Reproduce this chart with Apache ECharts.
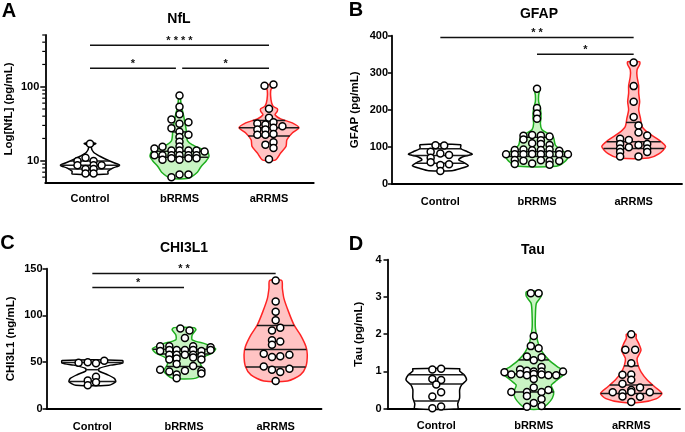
<!DOCTYPE html>
<html>
<head>
<meta charset="utf-8">
<script src="https://cdn.jsdelivr.net/npm/echarts@6/dist/echarts.min.js"></script>
<style>
html, body { margin: 0; background: #fff; }
#main { width: 685px; height: 432px; }
</style>
</head>
<body>
<div id="main"></div>
<script>
const groups = ['Control', 'bRRMS', 'aRRMS'];

// points: [x offset inside the category, value]
const nflPoints = [
  [[0, 17.0], [-0.05, 11.0], [-0.14, 9.9], [0.04, 9.9], [-0.14, 8.7], [0.04, 8.7], [0.13, 8.7], [-0.05, 7.7], [0.04, 7.7], [-0.05, 6.7], [0.04, 6.7]],
  [[0, 76], [0, 53.5], [0, 42.5], [-0.09, 36], [0.1, 33], [0, 31.5], [-0.09, 27.5], [0, 24.7], [0.1, 22.5], [0, 20.9], [0, 18.1], [0, 15.6],
   [-0.28, 14.6], [-0.19, 15.5], [-0.09, 13.7], [0, 13.7], [0.1, 13.7], [0.19, 13.7], [0.28, 13.3],
   [-0.28, 11.9], [-0.19, 11.9], [-0.09, 11.9], [0, 11.9], [0.1, 11.9], [0.19, 11.9],
   [-0.19, 10.3], [-0.09, 10.8], [0, 10.3], [0.1, 10.8], [0.19, 10.8], [-0.09, 6.0], [0, 6.5], [0.1, 6.5]],
  [[-0.05, 103], [0.05, 107], [0, 50.3], [0, 38], [-0.13, 31.8], [-0.04, 30.8], [0.05, 33.1], [0.15, 29.2], [-0.13, 26.4], [-0.04, 26.4],
   [0.05, 27.8], [-0.13, 22.5], [-0.04, 22.5], [0.05, 23.0], [-0.04, 16.5], [0.05, 17.7], [0.05, 14.9], [0, 10.5]]
];
// violin outline: [value, half width]
const nflShapes = [
  [[6.6, 0.20], [7.2, 0.20], [8.0, 0.26], [8.7, 0.33], [9.9, 0.22], [11.5, 0.11], [13, 0.04], [15, 0.015], [16.3, 0.03], [17.0, 0.065], [17.4, 0.045]],
  [[5.8, 0.10], [7.0, 0.20], [8.3, 0.24], [10.0, 0.30], [11.5, 0.33], [13.4, 0.31], [14.5, 0.24], [16.5, 0.14], [18.5, 0.09], [21.4, 0.08], [26, 0.075], [33, 0.06], [44, 0.04], [55, 0.02], [68, 0.012], [76, 0.01]],
  [[10.2, 0.07], [12.7, 0.13], [15.6, 0.19], [19.2, 0.20], [23.7, 0.26], [27.8, 0.335], [32.4, 0.26], [36.8, 0.13], [42, 0.067], [46.7, 0.093], [50.3, 0.093], [54.6, 0.045], [67, 0.022], [92, 0.022], [102, 0.06], [106, 0.07]]
];
const nflQuart = [[7.7, 8.7, 9.9], [11.1, 13.4, 24.5], [21.5, 27.8, 35]];
const nflSig = [[0, 2, 363, '* * * *'], [0, 0.96, 177, '*'], [1.03, 2, 177, '*']];
const nflMinorTicks = [6, 7, 8, 9, 20, 30, 40, 50, 60, 70, 80, 90, 200, 300, 400, 500];

const gfapPoints = [
  [[-0.05, 104.5], [0.04, 104], [-0.1, 87], [0, 82], [0.09, 78], [-0.1, 71], [-0.1, 59], [0.09, 53], [0, 51], [0, 35]],
  [[0, 257], [0, 205], [0, 190], [0, 176], [-0.14, 130], [-0.05, 132], [0.04, 131], [0.13, 128], [-0.14, 120], [0.04, 118],
   [-0.05, 110], [0.04, 108], [0.13, 105], [-0.23, 92], [-0.14, 93], [-0.05, 91], [0.04, 92], [0.13, 93], [0.23, 90],
   [-0.32, 80], [-0.23, 80], [-0.14, 80], [-0.05, 81], [0.04, 80], [0.13, 80], [0.23, 80], [0.32, 80],
   [-0.23, 65], [-0.14, 63], [0.04, 64], [0.13, 62], [0.23, 62], [-0.23, 54], [-0.05, 55], [0.13, 52]],
  [[0, 328], [0, 264], [0, 222], [0, 181], [0.05, 158], [0.05, 139], [0.14, 131], [-0.14, 122], [-0.05, 119], [0.14, 108],
   [-0.14, 108], [0.05, 105], [-0.05, 99], [-0.14, 96], [0.14, 96], [0.14, 86], [-0.14, 86], [-0.14, 74], [0.05, 74]]
];
const gfapShapes = [
  [[36, 0.12], [42, 0.21], [49.5, 0.29], [58.6, 0.24], [65, 0.19], [74, 0.24], [80, 0.33], [87, 0.28], [96, 0.21], [106, 0.21]],
  [[48, 0.2], [58.6, 0.28], [76.6, 0.33], [90, 0.26], [105, 0.19], [126, 0.17], [135, 0.12], [147, 0.05], [163, 0.035], [181, 0.042], [204, 0.035], [222, 0.017], [240, 0.017], [259, 0.028]],
  [[70, 0.155], [81, 0.26], [101, 0.33], [119, 0.26], [137, 0.155], [155, 0.087], [177.5, 0.07], [200, 0.052], [222, 0.062], [245, 0.052], [265, 0.052], [290, 0.035], [308, 0.035], [322, 0.062], [330, 0.062]]
];
const gfapQuart = [[56, 77, 95], [74, 87, 126], [96, 114, 166]];
const gfapSig = [[0, 2, 395, '* *'], [1, 2, 350, '*']];

const chiPoints = [
  [[-0.15, 49.5], [-0.05, 50], [0.04, 49], [0.13, 51.5], [0.04, 34.5], [-0.05, 30.5], [0.04, 28.5], [-0.05, 25.5]],
  [[-0.04, 86], [0.06, 84], [0.01, 76], [-0.26, 67], [-0.16, 67], [0.1, 67], [0.29, 66],
   [-0.26, 62], [-0.16, 63], [-0.08, 63], [0.01, 63], [0.1, 63], [0.19, 62], [0.29, 63],
   [-0.16, 58], [-0.08, 58], [0.01, 58], [0.1, 58], [0.19, 57], [-0.16, 53], [-0.08, 54], [0.1, 55], [0.19, 53],
   [-0.08, 48], [0.1, 46], [-0.26, 42], [-0.16, 40], [0.01, 41], [0.19, 41], [0.19, 38], [-0.08, 37], [-0.08, 33]],
  [[0, 137.5], [0, 115], [0, 104], [0, 95], [0.05, 87], [-0.04, 84], [-0.04, 73.6], [0.05, 72.2], [-0.04, 68.6], [-0.13, 59],
   [0.15, 58], [0.05, 56.5], [-0.04, 55.5], [-0.13, 45.5], [0.15, 43], [-0.04, 42], [0.05, 39.5], [0, 30]]
];
const chiShapes = [
  [[25.5, 0.18], [29.1, 0.255], [32.7, 0.24], [36.9, 0.16], [40.5, 0.073], [43.3, 0.073], [46.9, 0.2], [49, 0.33], [51.9, 0.33]],
  [[33, 0.13], [40.5, 0.22], [48, 0.18], [54.5, 0.2], [59.9, 0.31], [64.5, 0.345], [69.4, 0.24], [74, 0.09], [79.4, 0.09], [84.7, 0.13], [87, 0.11]],
  [[30, 0.13], [36.5, 0.27], [45.4, 0.33], [57.9, 0.345], [66.8, 0.33], [79.2, 0.27], [89.9, 0.2], [104.1, 0.14], [118.3, 0.09], [129, 0.073], [137.5, 0.065]]
];
const chiQuart = [[29.5, 42, 49.8], [45.5, 58.7, 64], [44.8, 63.6, 89.3]];
const chiSig = [[0, 2, 145, '* *'], [0, 1, 130, '*']];

const tauPoints = [
  [[-0.04, 1.05], [0.05, 1.07], [-0.04, 0.8], [0.05, 0.77], [0, 0.65], [0.05, 0.44], [-0.04, 0.33], [0.05, 0.06], [-0.04, 0.01]],
  [[-0.03, 3.1], [0.05, 3.1], [0, 1.95], [-0.03, 1.68], [0.05, 1.62], [-0.07, 1.4], [0.08, 1.38], [0, 1.3], [0.08, 1.12],
   [-0.14, 1.05], [-0.07, 1.02], [0, 1.0], [0.08, 1.0], [-0.3, 0.98], [-0.23, 0.92], [-0.14, 0.93], [-0.07, 0.9], [0, 0.93],
   [0.08, 0.92], [0.15, 0.9], [0.23, 0.9], [0.3, 1.0], [0, 0.8], [0, 0.57], [-0.23, 0.45], [-0.07, 0.45], [0.08, 0.45],
   [0.15, 0.5], [-0.07, 0.34], [0.08, 0.26], [0, 0.15], [-0.07, 0.05], [0.08, 0.07]],
  [[0, 2.0], [-0.06, 1.58], [0.04, 1.58], [0, 1.22], [-0.09, 0.91], [0, 0.92], [0, 0.78], [-0.09, 0.67], [0, 0.5], [0.09, 0.57],
   [-0.19, 0.44], [-0.09, 0.42], [0, 0.45], [0.19, 0.44], [-0.09, 0.33], [0.09, 0.32], [0, 0.18]]
];
const tauShapes = [
  [[0, 0.22], [0.13, 0.22], [0.29, 0.24], [0.51, 0.24], [0.64, 0.26], [0.77, 0.31], [0.9, 0.29], [1.01, 0.24], [1.07, 0.24]],
  [[0, 0.075], [0.12, 0.14], [0.28, 0.19], [0.45, 0.205], [0.63, 0.18], [0.77, 0.24], [0.98, 0.325], [1.13, 0.24], [1.31, 0.154], [1.53, 0.085], [1.8, 0.041], [2.16, 0.017], [2.51, 0.017], [2.83, 0.027], [3.01, 0.075], [3.14, 0.075]],
  [[0.17, 0.1], [0.27, 0.26], [0.41, 0.315], [0.59, 0.24], [0.77, 0.164], [0.99, 0.1], [1.17, 0.07], [1.35, 0.06], [1.57, 0.1], [1.76, 0.075], [1.89, 0.05], [2.0, 0.05]]
];
const tauQuart = [[0.21, 0.66, 0.91], [0.45, 0.93, 1.31], [0.41, 0.636, 1.15]];

const font = 'Liberation Sans';
const fills = ['#ffffff', '#c9f4c3', '#ffc3c3'];
const strokes = ['#000000', '#1faf1f', '#ff2424'];

const grids = [
  { left: 45.25, top: 35, width: 268.5, height: 148 },
  { left: 392, top: 35.7, width: 290, height: 148.3 },
  { left: 46.5, top: 268.7, width: 275, height: 140.6 },
  { left: 387.5, top: 259.7, width: 292.5, height: 149 }
];

const mychart = echarts.init(document.getElementById('main'));

// width of the violin at a pixel row
function widthAt(px, py, y) {
  for (let j = 0; j < py.length - 1; j++) {
    const a = py[j], b = py[j + 1];
    if ((y <= a && y >= b) || (y >= a && y <= b)) {
      const t = a === b ? 0 : (y - a) / (b - a);
      return px[j] + t * (px[j + 1] - px[j]);
    }
  }
  return 0;
}

function violin(k, shapes, quarts) {
  return {
    type: 'custom', xAxisIndex: 2 * k + 1, yAxisIndex: k, clip: false, z: 2,
    data: [0, 1, 2],
    renderItem: (params, api) => {
      const i = params.dataIndex;
      const s = shapes[i];
      const right = s.map(d => api.coord([i + d[1], d[0]]));
      const left = s.slice().reverse().map(d => api.coord([i - d[1], d[0]]));
      const cx = api.coord([i, s[0][0]])[0];
      const children = [{
        type: 'polygon',
        shape: { points: right.concat(left), smooth: 0.25 },
        style: { fill: fills[i], stroke: strokes[i], lineWidth: 1.5 }
      }];
      const px = right.map(p => p[0] - cx), py = right.map(p => p[1]);
      quarts[i].forEach(q => {
        const y = api.coord([i, q])[1];
        const w = widthAt(px, py, y);
        children.push({
          type: 'line',
          shape: { x1: cx - w, y1: y, x2: cx + w, y2: y },
          style: { stroke: '#1a1a1a', lineWidth: 1.5 }
        });
      });
      return { type: 'group', children };
    }
  };
}

function dots(k, points) {
  return {
    type: 'scatter', xAxisIndex: 2 * k + 1, yAxisIndex: k, z: 5,
    symbol: 'circle', symbolSize: 7, silent: true,
    itemStyle: { color: '#ffffff', borderColor: '#000000', borderWidth: 1.5, opacity: 1 },
    data: points.flatMap((list, i) => list.map(p => [i + p[0], p[1]]))
  };
}

function sigBars(k, sig) {
  return {
    type: 'custom', xAxisIndex: 2 * k + 1, yAxisIndex: k, clip: false, z: 3,
    data: sig.map((s, i) => i),
    renderItem: (params, api) => {
      const s = sig[params.dataIndex];
      const a = api.coord([s[0], s[2]]), b = api.coord([s[1], s[2]]);
      return {
        type: 'group',
        children: [
          { type: 'line', shape: { x1: a[0], y1: a[1], x2: b[0], y2: b[1] }, style: { stroke: '#111', lineWidth: 1.5 } },
          { type: 'text', x: (a[0] + b[0]) / 2, y: a[1] + 1,
            style: { text: s[3], fill: '#111', font: 'bold 11px ' + font, textAlign: 'center', textVerticalAlign: 'bottom' } }
        ]
      };
    }
  };
}

function minorTicks(k, ticks) {
  return {
    type: 'custom', xAxisIndex: 2 * k + 1, yAxisIndex: k, clip: false, z: 3,
    data: ticks.map((t, i) => i),
    renderItem: (params, api) => {
      const p = api.coord([-0.5, ticks[params.dataIndex]]);
      return { type: 'line', shape: { x1: p[0] - 3, y1: p[1], x2: p[0], y2: p[1] }, style: { stroke: '#000', lineWidth: 1.2 } };
    }
  };
}

const labelMargins = [10, 12, 12, 12];
const xAxes = [];
grids.forEach((g, k) => {
  xAxes.push({
    type: 'category', gridIndex: k, data: groups, boundaryGap: true,
    axisLine: { onZero: false, lineStyle: { color: '#000', width: 1.8 } },
    axisTick: { alignWithLabel: true, length: 5, lineStyle: { color: '#000', width: 1.5 } },
    axisLabel: { color: '#000', fontWeight: 'bold', fontSize: 11, fontFamily: font, margin: labelMargins[k] }
  });
  xAxes.push({ type: 'value', gridIndex: k, min: -0.5, max: 2.5, show: false });
});

function yAxis(k, name, gap, margin, extra) {
  return Object.assign({
    type: 'value', gridIndex: k,
    name: name, nameLocation: 'middle', nameGap: gap,
    nameTextStyle: { color: '#000', fontWeight: 'bold', fontSize: 11.5, fontFamily: font },
    axisLine: { show: true, onZero: false, lineStyle: { color: '#000', width: 1.8 } },
    axisTick: { show: true, length: 4, lineStyle: { color: '#000', width: 1.5 } },
    axisLabel: { color: '#000', fontWeight: 'bold', fontSize: 11, fontFamily: font, margin: margin },
    splitLine: { show: false }
  }, extra);
}

const yAxes = [
  yAxis(0, 'Log[NfL] (pg/mL)', 30, 6, {
    type: 'log', logBase: 10, min: 5, max: 500,
    axisTick: { show: true, length: 5, customValues: [10, 100], lineStyle: { color: '#000', width: 1.5 } },
    axisLabel: { color: '#000', fontWeight: 'bold', fontSize: 11, fontFamily: font, margin: 6, customValues: [10, 100] }
  }),
  yAxis(1, 'GFAP (pg/mL)', 31, 4, { min: 0, max: 400, interval: 100 }),
  yAxis(2, 'CHI3L1 (ng/mL)', 30, 4, { min: 0, max: 150, interval: 50 }),
  yAxis(3, 'Tau (pg/mL)', 23, 6, { min: 0, max: 4, interval: 1 })
];

function label(text, x, y, size) {
  return { type: 'text', x: x, y: y, style: { text: text, fill: '#000', font: 'bold ' + size + 'px ' + font, textAlign: 'center', textVerticalAlign: 'middle' } };
}

let option = {
  animation: false,
  grid: grids,
  xAxis: xAxes,
  yAxis: yAxes,
  graphic: [
    label('A', 9, 11.5, 20), label('B', 356, 10, 20), label('C', 7.5, 243.5, 20), label('D', 356, 244.5, 20),
    label('NfL', 179, 19, 14), label('GFAP', 539, 14, 14), label('CHI3L1', 184, 248, 14), label('Tau', 533, 250, 14)
  ],
  series: [
    violin(0, nflShapes, nflQuart), dots(0, nflPoints), sigBars(0, nflSig), minorTicks(0, nflMinorTicks),
    violin(1, gfapShapes, gfapQuart), dots(1, gfapPoints), sigBars(1, gfapSig),
    violin(2, chiShapes, chiQuart), dots(2, chiPoints), sigBars(2, chiSig),
    violin(3, tauShapes, tauQuart), dots(3, tauPoints)
  ]
};

mychart.setOption(option);
</script>
</body>
</html>
